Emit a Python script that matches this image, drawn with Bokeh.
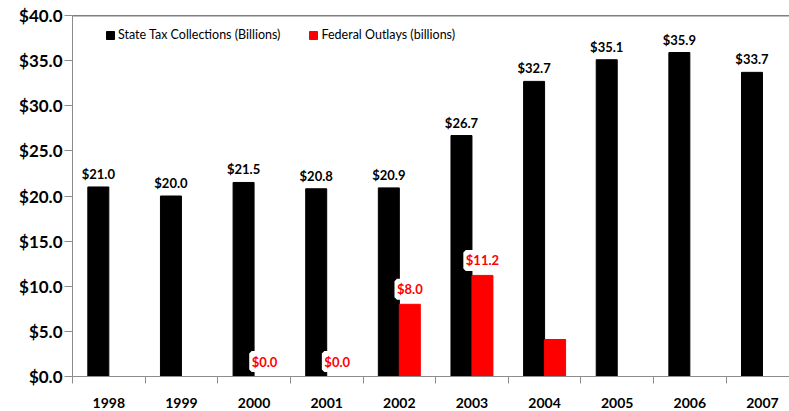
from bokeh.plotting import figure
from bokeh.models import (ColumnDataSource, Range1d, FixedTicker,
                          LabelSet, Legend, LegendItem, Span, PrintfTickFormatter)
from bokeh.core.properties import value
from bokeh.transform import dodge
from bokeh.embed import file_html
from bokeh.resources import INLINE

# ---- data ----
years = ["1998", "1999", "2000", "2001", "2002", "2003", "2004", "2005", "2006", "2007"]
state_tax = [21.0, 20.0, 21.5, 20.8, 20.9, 26.7, 32.7, 35.1, 35.9, 33.7]
federal_years = ["2000", "2001", "2002", "2003", "2004"]
federal_outlays = [0.0, 0.0, 8.0, 11.2, 4.1]
federal_labeled = [True, True, True, True, False]
y_ticks = [0, 5, 10, 15, 20, 25, 30, 35, 40]

FONT = "Lato"
GRAY = "#8c8c8c"
BAR_W = 0.289

centers = [i + 0.5 for i in range(len(years))]
pos = dict(zip(years, centers))

src_state = ColumnDataSource(dict(
    x=centers, top=state_tax, text=[f"${v:.1f}" for v in state_tax]))
src_fed = ColumnDataSource(dict(
    x=[pos[y] for y in federal_years], top=federal_outlays))
lab_idx = [i for i, f in enumerate(federal_labeled) if f]
src_fed_lab = ColumnDataSource(dict(
    x=[pos[federal_years[i]] for i in lab_idx],
    top=[federal_outlays[i] for i in lab_idx],
    text=[f"${federal_outlays[i]:.1f}" for i in lab_idx]))

p = figure(width=789, height=411, x_range=Range1d(0, 9.872), y_range=Range1d(0, 40),
           output_backend="svg", toolbar_location=None,
           min_border_left=72, min_border_right=0, min_border_top=15, min_border_bottom=35)
p.outline_line_color = None
p.xgrid.visible = False
p.ygrid.visible = False
p.background_fill_color = "white"

r_state = p.vbar(x=dodge("x", -BAR_W / 2), top="top", width=BAR_W, source=src_state,
                 fill_color="black", line_color="black")
r_fed = p.vbar(x=dodge("x", BAR_W / 2), top="top", width=BAR_W, source=src_fed,
               fill_color="#FF0000", line_color="#FF0000")

p.add_layout(Span(location=40, dimension="width", line_color="black", line_width=1.5))

p.add_layout(LabelSet(x=dodge("x", -BAR_W / 2), y="top", text="text", source=src_state,
                      text_align="center", text_baseline="bottom", y_offset=5,
                      text_font=value(FONT), text_font_size="13px", text_font_style="bold",
                      text_color="black"))
p.add_layout(LabelSet(x=dodge("x", BAR_W / 2), y="top", text="text", source=src_fed_lab,
                      text_align="center", text_baseline="bottom", y_offset=7,
                      text_font=value(FONT), text_font_size="13px", text_font_style="bold",
                      text_color="#FF0000", background_fill_color="white",
                      border_line_color="white", border_line_width=5))

# y axis
ya = p.yaxis[0]
ya.ticker = FixedTicker(ticks=y_ticks)
ya.formatter = PrintfTickFormatter(format="$%.1f")
ya.axis_line_color = GRAY
ya.major_tick_line_color = GRAY
ya.major_tick_out = 8
ya.major_tick_in = 0
ya.minor_tick_line_color = None
ya.major_label_text_font = FONT
ya.major_label_text_font_size = "17px"
ya.major_label_text_font_style = "bold"
ya.major_label_text_color = "black"
ya.major_label_standoff = 2

# x axis
xa = p.xaxis[0]
xa.ticker = FixedTicker(ticks=centers, minor_ticks=list(range(len(years) + 1)))
xa.major_label_overrides = {c: y for c, y in zip(centers, years)}
xa.axis_line_color = GRAY
xa.major_tick_line_color = None
xa.major_tick_out = 0
xa.major_tick_in = 0
xa.minor_tick_line_color = GRAY
xa.minor_tick_out = 7
xa.minor_tick_in = 0
xa.major_label_text_font = FONT
xa.major_label_text_font_size = "14px"
xa.major_label_text_font_style = "bold"
xa.major_label_text_color = "black"
xa.major_label_standoff = 14

legend = Legend(items=[LegendItem(label="State Tax Collections (Billions)", renderers=[r_state]),
                       LegendItem(label="Federal Outlays (billions)", renderers=[r_fed])],
                orientation="horizontal", location=(33, 334),
                glyph_width=10, glyph_height=10, label_standoff=3, spacing=28,
                padding=0, margin=0, border_line_color=None, background_fill_alpha=0,
                label_text_font=FONT, label_text_font_size="12.5px", label_text_color="black")
p.add_layout(legend)

open("out.html", "w").write(file_html(p, INLINE))
